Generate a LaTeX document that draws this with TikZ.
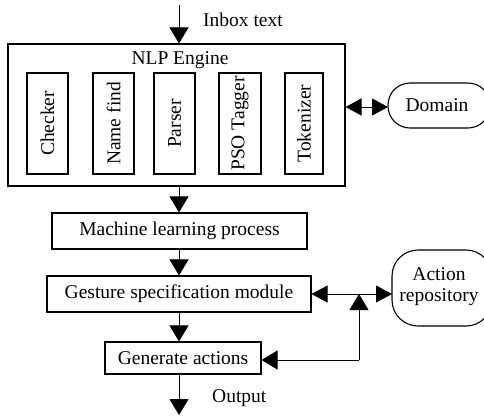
\documentclass[tikz,border=0pt]{standalone}
\usepackage{fontspec}
\setmainfont{Liberation Serif}
\usetikzlibrary{arrows.meta,calc}
\begin{document}
\begin{tikzpicture}[x=1pt,y=-1pt,
  every node/.style={font=\fontsize{19.5}{22}\selectfont},
  box/.style={draw,line width=1.1pt,inner sep=0pt,anchor=center},
  vbox/.style={box,minimum height=101pt},
  vtext/.style={rotate=90,inner sep=0pt},
  cloud/.style={draw,line width=1.1pt,rounded corners=22pt,inner sep=0pt},
  arr/.style={line width=1pt,-{Triangle[length=16pt,width=19pt]}},
  darr/.style={line width=1pt,{Triangle[length=16pt,width=17pt]}-{Triangle[length=16pt,width=17pt]}}
]
\useasboundingbox (0,0) rectangle (484,416);
% coordinates
\coordinate (in) at (179,5);
\coordinate (out) at (179,415);
% NLP engine
\node[box,minimum width=337pt,minimum height=142pt] (nlp) at (176.5,115) {};
\node (nlpl) at (180,60) {NLP Engine};
\node[vbox,minimum width=41pt] (chk) at (47.5,123.5) {};
\node[vtext] (chkt) at (chk) {Checker};
\node[vbox,minimum width=41pt] (nf) at (113.5,123.5) {};
\node[vtext] (nft) at (nf) {Name find};
\node[vbox,minimum width=41pt] (par) at (174.5,123.5) {};
\node[vtext] (part) at (par) {Parser};
\node[vbox,minimum width=42pt] (pso) at (240,123.5) {};
\node[vtext] (psot) at (pso) {PSO Tagger};
\node[vbox,minimum width=38pt] (tok) at (304,123.5) {};
\node[vtext] (tokt) at (tok) {Tokenizer};
% Domain
\draw[cloud] (388,83) rectangle (490,128);
\node (dom) at (437,105.5) {Domain};
\coordinate (domw) at (388,107);
% processes
\node[box,minimum width=255pt,minimum height=36pt] (ml) at (179.5,231) {Machine learning process};
\node[box,minimum width=264pt,minimum height=36pt] (ges) at (179,294) {Gesture specification module};
\node[box,minimum width=156pt,minimum height=32pt] (gen) at (183,358) {Generate actions};
% action repository
\draw[cloud,rounded corners=26pt] (392,250) rectangle (492,326);
\node[align=center,inner sep=0pt] (act) at (439,286.5) {Action\\[-1pt]repository};
\coordinate (actw) at (392,294);
\coordinate (j) at (359,294);
\coordinate (jb) at (359,360);
% labels
\node[anchor=west,inner sep=0pt] (inl) at (203,20) {Inbox text};
\node[anchor=west,inner sep=0pt] (outl) at (212,398) {Output};
% connectors
\draw[arr] (in) -- (nlp.north -| in);
\draw[arr] (nlp.south -| in) -- (ml.north -| in);
\draw[arr] (ml.south -| in) -- (ges.north -| in);
\draw[arr] (ges.south -| in) -- (gen.north -| in);
\draw[arr] (gen.south -| in) -- (out);
\draw[darr] (domw -| nlp.east) -- (domw);
\draw[darr] (ges.east) -- (actw);
\draw[arr] (jb) -- (j);
\draw[arr] (jb) -- (jb -| gen.east);
\end{tikzpicture}
\end{document}
